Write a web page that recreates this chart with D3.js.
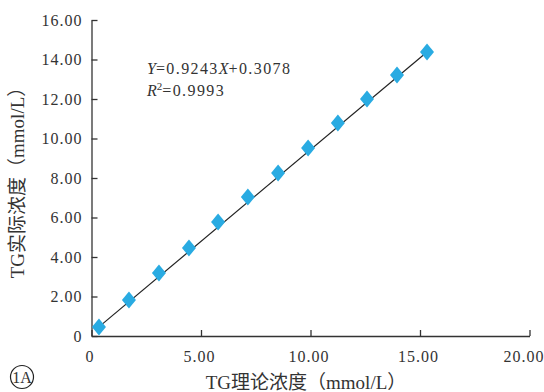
<!DOCTYPE html>
<html>
<head>
    <meta charset="UTF-8">
    <title>TG linearity</title>
    <script src="https://d3js.org/d3.v7.min.js"></script>
    <style>
        *{
            padding:0;
            margin:0;
        }
    </style>
</head>
<body>
    <svg id='main' width="544" height="392"></svg>
    <script>
const theoretical = [0.34, 1.71, 3.08, 4.45, 5.78, 7.14, 8.52, 9.89, 11.25, 12.58, 13.95, 15.32];
const measured    = [0.46, 1.82, 3.19, 4.46, 5.77, 7.04, 8.25, 9.52, 10.78, 12.00, 13.22, 14.38];

const xTicks = [0, 5, 10, 15, 20];
const yTicks = [0, 2, 4, 6, 8, 10, 12, 14, 16];

const serif = '"Liberation Serif", "DejaVu Serif", "Noto Sans CJK SC", serif';
const ink = "#333";

const svg = d3.select("svg");

const x = d3.scaleLinear().domain([0, 20]).range([91.5, 529.5]);
const y = d3.scaleLinear().domain([0, 16]).range([336, 20]);

const fmt = d => d === 0 ? "0" : d.toFixed(2);

function styleAxis(g) {
    g.select(".domain").style("stroke", ink).style("stroke-width", "1.3px");
    g.selectAll(".tick line").style("stroke", ink).style("stroke-width", "1.3px");
    g.selectAll(".tick text")
        .style("font-family", serif)
        .style("font-size", "16px")
        .style("letter-spacing", "1px")
        .style("fill", ink);
}

// axes, ticks pointing inward
svg.append("g")
    .attr("transform", "translate(0,336)")
    .call(d3.axisBottom(x).tickValues(xTicks).tickFormat(fmt).tickSizeInner(-6).tickSizeOuter(0).tickPadding(12))
    .call(styleAxis)
    .call(g => g.selectAll(".tick text").attr("dy", "0.85em")
        .attr("dx", d => d === 20 ? -6 : -2));

svg.append("g")
    .attr("transform", "translate(91.5,0)")
    .call(d3.axisLeft(y).tickValues(yTicks).tickFormat(fmt).tickSizeInner(-6).tickSizeOuter(0).tickPadding(9))
    .call(styleAxis);

// fit line between first and last point
const n = theoretical.length;
svg.append("line")
    .attr("x1", x(theoretical[0])).attr("y1", y(measured[0]))
    .attr("x2", x(theoretical[n - 1])).attr("y2", y(measured[n - 1]))
    .attr("stroke", "#222")
    .attr("stroke-width", 1.2);

// diamonds
svg.append("g")
    .selectAll("path")
    .data(theoretical.map((d, i) => [d, measured[i]]))
    .enter().append("path")
    .attr("d", "M0,-8.5 L7,0 L0,8.5 L-7,0 Z")
    .attr("transform", d => `translate(${x(d[0])},${y(d[1])})`)
    .attr("fill", "#29abe2");

// equation
function eqText(yPos) {
    return svg.append("text")
        .attr("x", 147).attr("y", yPos)
        .style("font-family", serif)
        .style("font-size", "16px")
        .style("fill", ink);
}
const eq1 = eqText(74);
eq1.append("tspan").style("font-style", "italic").text("Y");
eq1.append("tspan").style("letter-spacing", "1.4px").text("=0.9243");
eq1.append("tspan").style("font-style", "italic").text("X");
eq1.append("tspan").style("letter-spacing", "1.4px").text("+0.3078");

const eq2 = eqText(96);
eq2.append("tspan").style("font-style", "italic").text("R");
eq2.append("tspan").style("font-size", "11px").attr("dy", "-6").text("2");
eq2.append("tspan").attr("dy", "6").style("letter-spacing", "1.4px").text("=0.9993");

// axis titles
svg.append("text")
    .attr("x", 306).attr("y", 389)
    .attr("text-anchor", "middle")
    .style("font-family", serif).style("font-size", "19px").style("fill", ink)
    .text("TG理论浓度（mmol/L）");

svg.append("text")
    .attr("transform", "translate(24,178) rotate(-90)")
    .attr("text-anchor", "middle")
    .style("font-family", serif).style("font-size", "19px").style("fill", ink)
    .text("TG实际浓度（mmol/L）");

// panel marker
svg.append("circle")
    .attr("cx", 22).attr("cy", 377).attr("r", 11.5)
    .attr("fill", "none").attr("stroke", "#222").attr("stroke-width", 1.2);
svg.append("text")
    .attr("x", 22).attr("y", 383)
    .attr("text-anchor", "middle")
    .style("font-family", serif).style("font-size", "16px").style("fill", ink)
    .text("1A");
    </script>
</body>
</html>
